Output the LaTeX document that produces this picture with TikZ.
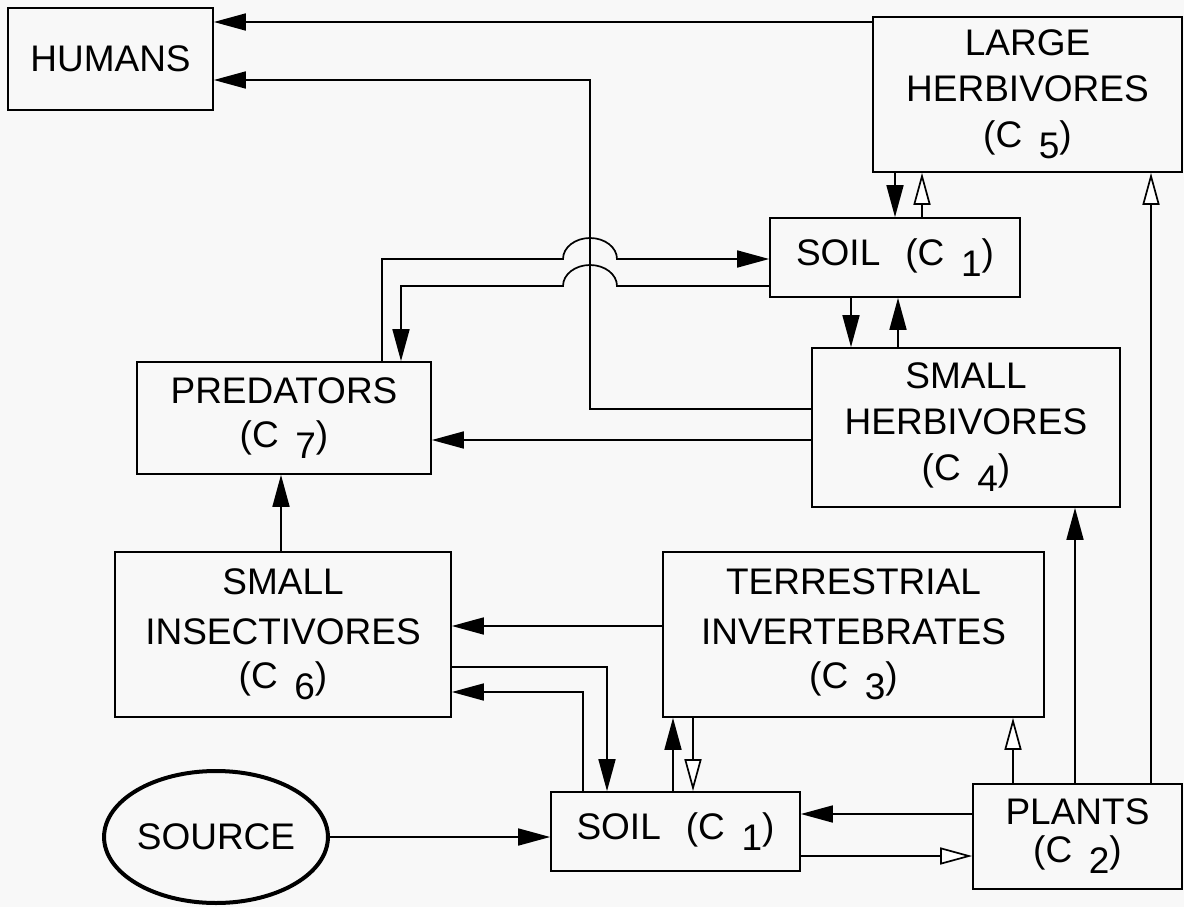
\documentclass[tikz,border=0pt]{standalone}
\usepackage{fontspec}
\setmainfont{Liberation Sans}
\usetikzlibrary{arrows.meta,shapes.geometric,positioning,calc}
\definecolor{paper}{RGB}{248,248,248}
\newcommand{\compnum}[1]{(C\hspace{0.45em}\raisebox{-0.3em}{#1})}

\begin{document}
\begin{tikzpicture}[x=1pt,y=-1pt,
  box/.style={draw, line width=1.7pt, align=center, inner sep=0pt, font=\fontsize{37}{46}\selectfont},
  arr/.style={line width=1.7pt, -{Triangle[length=32pt 0 0,width=17pt 0 0]}},
  arro/.style={line width=1.7pt, -{Triangle[open,length=32pt 0 0,width=17pt 0 0,fill=white]}},
  wire/.style={line width=1.7pt}]
  \fill[paper] (0,0) rectangle (1184,907);
  \useasboundingbox (0,0) rectangle (1184,907);

  % compartments
  \node[box, minimum width=205pt, minimum height=102pt] (humans) at (110.5,59) {HUMANS};
  \node[box, minimum width=309pt, minimum height=155pt] (large) at (1027.5,94.5) {LARGE\\HERBIVORES\\\compnum{5}};
  \node[box, minimum width=250pt, minimum height=79pt] (soilA) at (895,257.5) {SOIL\hspace{0.4em} \compnum{1}};
  \node[box, minimum width=308pt, minimum height=159pt] (small) at (966,427.5) {SMALL\\HERBIVORES\\\compnum{4}};
  \node[box, minimum width=294pt, minimum height=112pt] (predators) at (284,418) {PREDATORS\\[-2pt]\compnum{7}};
  \node[box, minimum width=336pt, minimum height=165pt] (insect) at (283,634.5) {SMALL\\[4pt]INSECTIVORES\\[-2pt]\compnum{6}};
  \node[box, minimum width=381pt, minimum height=165pt] (terr) at (853.5,634.5) {TERRESTRIAL\\[4pt]INVERTEBRATES\\[-2pt]\compnum{3}};
  \node[box, minimum width=249pt, minimum height=79pt] (soilB) at (675.5,831.5) {SOIL\hspace{0.4em} \compnum{1}};
  \node[box, minimum width=209pt, minimum height=105pt] (plants) at (1077.5,836.5) {PLANTS\\[-8pt]\compnum{2}};
  \node[box, ellipse, line width=4pt, minimum width=206pt, minimum height=132pt] (source) at (216,837) {SOURCE};

  % flows to humans
  \draw[arr] (large.west |- 0,22) -- (humans.east |- 0,22);
  \draw[arr] (small.west |- 0,409) -| (590,80) -- (humans.east |- 0,80);

  % predators and upper soil, hopping over the line to humans
  \draw[arr] (382,0 |- predators.north) -- (382,259) -- (563,259)
    arc[start angle=180, end angle=0, x radius=27pt, y radius=21pt] -- (soilA.west |- 0,259);
  \draw[arr] (soilA.west |- 0,286) -- (617,286)
    arc[start angle=0, end angle=180, x radius=27pt, y radius=21pt] -- (401,286) -- (401,0 |- predators.north);

  % upper soil exchanges
  \draw[arr] (895,0 |- large.south) -- (895,0 |- soilA.north);
  \draw[arro] (922,0 |- soilA.north) -- (922,0 |- large.south);
  \draw[arr] (851,0 |- soilA.south) -- (851,0 |- small.north);
  \draw[arr] (898,0 |- small.north) -- (898,0 |- soilA.south);

  % consumers
  \draw[arr] (small.west |- 0,440) -- (predators.east |- 0,440);
  \draw[arr] (281,0 |- insect.north) -- (281,0 |- predators.south);
  \draw[arr] (terr.west |- 0,626) -- (insect.east |- 0,626);
  \draw[arr] (insect.east |- 0,667) -| (607,0 |- soilB.north);
  \draw[arr] (583,0 |- soilB.north) |- (insect.east |- 0,692);

  % lower soil
  \draw[arr] (source.east) -- (soilB.west |- source.east);
  \draw[arr] (673,0 |- soilB.north) -- (673,0 |- terr.south);
  \draw[arro] (693,0 |- terr.south) -- (693,0 |- soilB.north);
  \draw[arr] (plants.west |- 0,814) -- (soilB.east |- 0,814);
  \draw[arro] (soilB.east |- 0,856) -- (plants.west |- 0,856);

  % uptake by plants
  \draw[arro] (1013,0 |- plants.north) -- (1013,0 |- terr.south);
  \draw[arr] (1075,0 |- plants.north) -- (1075,0 |- small.south);
  \draw[arro] (1151,0 |- plants.north) -- (1151,0 |- large.south);
\end{tikzpicture}
\end{document}
